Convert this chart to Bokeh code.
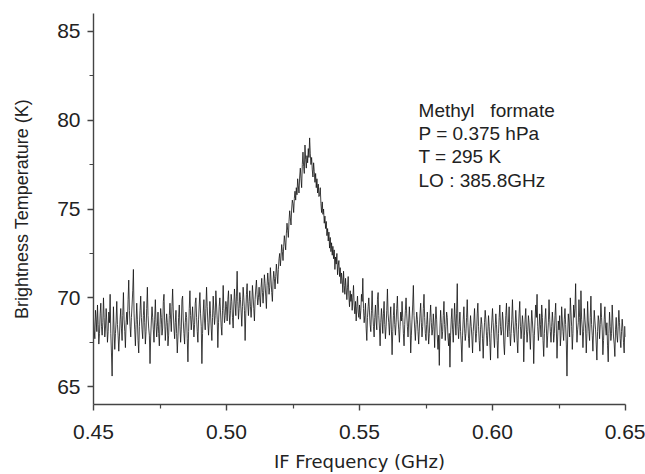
from bokeh.plotting import figure
from bokeh.models import FixedTicker, Label, Range1d, NumeralTickFormatter
from bokeh.embed import file_html
from bokeh.resources import INLINE

# ---- spectrum: brightness temperature (K), 0.00025 GHz channels ----
tb_a = [68.9, 68.2, 67.7, 69.3, 68.8, 68.1, 69.6, 68.5, 67.4, 68.0,
        69.1, 69.7, 68.4, 67.9, 68.6, 70.0, 68.9, 67.8, 68.3, 69.4,
        68.7, 67.5, 68.1, 69.2, 68.6, 70.2, 68.0, 66.9, 65.6, 67.8,
        69.5, 68.2, 67.1, 68.0, 68.7, 69.8, 68.5, 67.9, 67.0, 67.8,
        68.8, 69.4, 68.3, 67.6, 69.0, 70.3, 68.8, 68.1, 67.2, 68.6]
tb_b = [69.2, 68.5, 69.9, 71.0, 69.3, 68.4, 67.8, 68.9, 69.6, 70.4,
        71.6, 69.1, 68.2, 67.3, 68.5, 69.7, 68.8, 67.6, 66.9, 68.4,
        69.3, 70.1, 68.9, 68.2, 67.7, 69.0, 69.8, 68.6, 67.4, 68.1,
        69.4, 70.6, 69.0, 68.3, 67.9, 66.3, 67.8, 68.7, 69.5, 68.9,
        68.2, 67.5, 68.8, 69.9, 68.6, 67.8, 68.4, 69.2, 68.0, 67.3]
tb_c = [68.5, 69.4, 68.9, 67.9, 68.3, 69.8, 70.2, 68.7, 67.6, 68.4,
        69.1, 68.6, 67.3, 67.9, 69.0, 69.7, 68.8, 68.1, 69.5, 70.5,
        69.2, 68.3, 67.7, 68.6, 69.3, 68.0, 66.9, 67.8, 68.9, 69.6,
        68.4, 67.5, 68.2, 69.9, 70.1, 68.7, 68.0, 67.4, 68.6, 69.2,
        68.9, 67.7, 66.4, 68.1, 69.4, 70.4, 69.0, 68.2, 68.8, 69.5]
tb_d = [68.6, 67.8, 68.5, 69.7, 70.0, 68.9, 68.1, 67.5, 68.8, 69.6,
        70.3, 69.1, 68.4, 66.3, 68.0, 69.2, 69.9, 68.7, 68.2, 69.4,
        70.6, 69.5, 68.6, 67.9, 68.7, 69.8, 69.1, 68.3, 67.6, 68.9,
        70.1, 69.3, 68.5, 69.0, 70.4, 69.6, 68.8, 67.2, 68.6, 69.5,
        70.0, 69.2, 68.4, 67.9, 69.3, 70.7, 69.4, 68.6, 69.0, 69.8]
tb_e = [69.5, 68.7, 69.9, 70.4, 69.1, 68.5, 69.3, 70.2, 69.8, 68.9,
        68.3, 69.6, 70.5, 69.7, 69.0, 70.1, 71.5, 69.8, 68.8, 69.4,
        70.3, 69.9, 69.2, 68.4, 69.5, 70.6, 70.0, 69.3, 67.6, 69.1,
        70.2, 70.8, 69.7, 69.0, 69.8, 70.4, 69.5, 68.9, 69.6, 70.7,
        70.1, 69.4, 68.7, 69.9, 70.5, 71.0, 70.2, 69.6, 70.0, 70.6]
tb_f = [70.0, 69.5, 70.6, 71.1, 70.3, 69.7, 70.4, 71.3, 70.8, 70.1,
        69.4, 70.7, 71.4, 70.9, 70.2, 70.6, 71.7, 71.0, 70.3, 69.8,
        70.9, 71.5, 71.1, 70.5, 71.2, 71.9, 71.4, 70.8, 71.6, 72.2,
        72.5, 71.8, 72.3, 73.0, 72.6, 72.1, 72.9, 73.5, 73.1, 72.7,
        73.6, 74.2, 73.8, 73.4, 74.3, 74.9, 74.5, 74.1, 75.0, 75.5]
tb_g = [75.3, 74.8, 75.6, 76.0, 75.5, 76.2, 75.8, 76.7, 76.3, 75.9,
        76.8, 77.3, 76.7, 76.2, 77.5, 78.2, 77.4, 77.0, 78.6, 77.8,
        77.3, 78.0, 77.6, 78.4, 77.9, 79.0, 78.1, 77.5, 77.9, 77.2,
        76.8, 77.6, 77.1, 76.5, 77.0, 76.2, 76.7, 75.9, 76.4, 75.7,
        75.8, 76.2, 75.3, 74.8, 75.4, 74.7, 75.0, 74.2, 74.6, 73.9]
tb_h = [74.3, 73.5, 73.9, 73.2, 73.7, 72.8, 73.4, 72.6, 73.1, 72.4,
        72.9, 72.2, 72.7, 71.6, 72.3, 71.9, 72.5, 71.3, 71.8, 72.1,
        71.2, 71.7, 70.8, 71.4, 71.0, 70.3, 71.5, 70.7, 70.2, 71.1,
        70.5, 69.9, 70.6, 71.2, 70.1, 69.5, 70.4, 69.8, 70.2, 69.3,
        70.0, 70.7, 69.6, 69.1, 69.8, 68.7, 69.5, 70.1, 69.2, 68.9]
tb_i = [69.6, 68.8, 69.3, 70.2, 69.8, 71.1, 69.4, 68.6, 69.0, 69.7,
        68.3, 67.6, 68.9, 69.5, 70.0, 69.2, 68.5, 68.1, 69.3, 70.4,
        69.1, 68.4, 67.8, 68.9, 69.6, 68.7, 68.2, 69.9, 70.3, 69.0,
        68.3, 67.3, 68.6, 69.4, 68.8, 68.0, 69.1, 69.8, 68.5, 67.7,
        68.4, 69.3, 70.5, 69.1, 68.6, 67.9, 68.8, 69.5, 68.2, 66.8]
tb_j = [68.1, 69.0, 69.7, 68.5, 67.9, 68.6, 69.4, 70.1, 68.8, 68.2,
        67.5, 68.4, 69.2, 68.7, 69.8, 68.9, 68.0, 67.3, 68.5, 69.3,
        70.0, 69.1, 68.4, 67.8, 68.7, 69.5, 68.6, 66.9, 67.9, 68.8,
        69.6, 70.7, 69.0, 68.3, 67.6, 68.5, 69.2, 68.8, 68.1, 67.4,
        68.3, 69.1, 69.7, 68.6, 67.8, 68.4, 69.4, 70.2, 68.9, 68.0]
tb_k = [67.6, 68.5, 69.2, 68.3, 67.4, 68.0, 68.9, 69.6, 68.6, 67.9,
        68.2, 69.1, 68.4, 67.2, 68.7, 69.5, 68.8, 67.8, 67.1, 67.9,
        66.2, 68.3, 69.3, 68.6, 67.7, 68.1, 69.0, 69.8, 68.5, 67.6,
        68.4, 69.2, 68.9, 67.8, 67.3, 68.0, 66.1, 67.9, 68.8, 69.4,
        68.2, 67.5, 68.6, 69.7, 68.7, 67.9, 69.1, 70.8, 68.4, 67.7]
tb_l = [68.5, 69.2, 68.1, 67.4, 66.4, 67.9, 68.8, 69.5, 68.3, 67.6,
        68.0, 68.9, 69.9, 68.6, 67.7, 67.2, 68.3, 69.0, 68.4, 67.8,
        66.9, 68.1, 68.7, 69.4, 68.2, 67.5, 68.0, 69.1, 69.7, 68.4,
        67.6, 67.0, 68.2, 68.9, 68.5, 67.7, 66.6, 67.8, 68.6, 69.3,
        68.8, 67.9, 67.3, 68.1, 69.0, 68.4, 67.5, 66.5, 68.0, 68.7]
tb_m = [69.4, 68.6, 67.8, 67.2, 68.3, 69.1, 68.5, 67.6, 66.6, 68.0,
        68.9, 69.6, 68.4, 67.9, 68.2, 69.2, 68.7, 67.4, 66.8, 67.9,
        69.0, 69.7, 68.5, 67.8, 68.6, 69.5, 68.1, 67.3, 68.0, 68.8,
        69.9, 68.7, 68.0, 67.5, 68.4, 69.3, 68.6, 67.6, 66.9, 68.2,
        69.1, 69.8, 68.4, 67.7, 68.3, 69.0, 68.5, 66.4, 67.9, 68.8]
tb_n = [69.4, 68.2, 67.5, 68.1, 69.0, 68.6, 67.8, 67.1, 68.3, 69.3,
        68.7, 68.0, 66.3, 67.9, 68.8, 69.6, 68.9, 70.2, 68.4, 67.6,
        68.2, 69.1, 68.5, 67.8, 69.6, 68.9, 67.6, 66.7, 68.0, 68.8,
        69.4, 68.3, 67.2, 67.9, 68.6, 69.9, 68.8, 68.1, 67.5, 68.4,
        69.2, 68.6, 67.5, 68.0, 69.0, 69.7, 68.3, 66.6, 67.8, 68.7]
tb_o = [68.2, 69.0, 67.3, 67.9, 69.5, 68.7, 68.1, 67.6, 68.8, 69.4,
        68.5, 67.4, 65.6, 67.8, 69.1, 68.6, 67.8, 70.0, 69.2, 68.4,
        67.1, 68.0, 69.6, 68.9, 69.4, 70.8, 68.7, 67.5, 68.2, 68.6,
        69.9, 68.9, 67.9, 70.4, 68.8, 68.3, 67.2, 68.1, 69.4, 68.8,
        68.3, 66.9, 68.0, 69.8, 68.7, 68.1, 67.6, 68.9, 70.1, 68.5]
tb_p = [67.9, 67.0, 68.3, 69.3, 68.7, 68.2, 67.4, 66.5, 68.1, 69.0,
        68.7, 67.7, 68.5, 69.7, 68.9, 68.2, 66.8, 67.6, 68.8, 69.5,
        68.3, 67.9, 68.6, 67.3, 66.4, 68.0, 69.2, 68.4, 67.6, 68.0,
        69.6, 68.7, 67.8, 67.4, 66.7, 68.2, 68.9, 67.9, 67.5, 68.4,
        69.3, 68.6, 67.7, 67.2, 68.1, 68.8, 68.3, 67.5, 66.9, 68.4,
        67.8]

temperature = (tb_a + tb_b + tb_c + tb_d + tb_e + tb_f + tb_g + tb_h +
               tb_i + tb_j + tb_k + tb_l + tb_m + tb_n + tb_o + tb_p)
freq_start = 0.45    # GHz, first channel
freq_step = 0.00025  # GHz, channel spacing
frequency = [round(freq_start + freq_step * i, 5) for i in range(len(temperature))]

x_major = [0.45, 0.50, 0.55, 0.60, 0.65]
x_minor = [0.475, 0.525, 0.575, 0.625]
y_major = [65, 70, 75, 80, 85]
y_minor = [67.5, 72.5, 77.5, 82.5]

x_title = "IF Frequency (GHz)"
y_title = "Brightness Temperature (K)"
annotation = ["Methyl\u00a0\u00a0\u00a0formate", "P = 0.375 hPa", "T = 295 K", "LO : 385.8GHz"]

p = figure(width=645, height=474, output_backend="svg", toolbar_location=None,
           x_range=Range1d(0.45, 0.65), y_range=Range1d(64, 86),
           min_border_left=93, min_border_right=20, min_border_top=13,
           min_border_bottom=70)
p.outline_line_color = None
p.xgrid.visible = False
p.ygrid.visible = False
p.background_fill_color = "white"
p.border_fill_color = "white"

p.line(frequency, temperature, line_color="#111111", line_width=0.8)

for ax in (p.xaxis[0], p.yaxis[0]):
    ax.axis_line_color = "#444444"
    ax.axis_line_width = 1.4
    ax.major_tick_line_color = "#444444"
    ax.minor_tick_line_color = "#444444"
    ax.major_tick_line_width = 1.4
    ax.minor_tick_line_width = 1.2
    ax.major_tick_in = 0
    ax.major_tick_out = 6
    ax.minor_tick_in = 0
    ax.minor_tick_out = 4
    ax.major_label_text_font = "Liberation Sans"
    ax.major_label_text_font_size = "21px"
    ax.major_label_text_color = "#222222"
    ax.axis_label_text_font_style = "normal"
    ax.axis_label_text_color = "#222222"

p.xaxis[0].ticker = FixedTicker(ticks=x_major, minor_ticks=x_minor)
p.yaxis[0].ticker = FixedTicker(ticks=y_major, minor_ticks=y_minor)
p.xaxis[0].formatter = NumeralTickFormatter(format="0.00")
p.xaxis[0].major_label_standoff = 14
p.yaxis[0].major_label_standoff = 7

p.xaxis[0].axis_label = x_title
p.xaxis[0].axis_label_text_font = "DejaVu Sans"
p.xaxis[0].axis_label_text_font_size = "18px"
p.xaxis[0].axis_label_standoff = 9

p.yaxis[0].axis_label = y_title
p.yaxis[0].axis_label_text_font = "Liberation Sans"
p.yaxis[0].axis_label_text_font_size = "18px"
p.yaxis[0].axis_label_standoff = 22

ann_x = 0.5722
ann_y = [80.54, 79.25, 77.95, 76.6]
for txt, yy in zip(annotation, ann_y):
    p.add_layout(Label(x=ann_x, y=yy, text=txt, text_font="Liberation Sans",
                       text_font_size="19px", text_color="#222222",
                       text_baseline="alphabetic"))

open("out.html", "w").write(file_html(p, INLINE))
